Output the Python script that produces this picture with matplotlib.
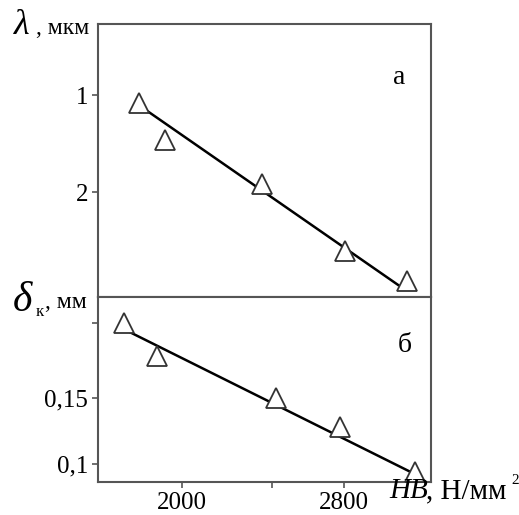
import numpy as np
import matplotlib
matplotlib.use("Agg")
import matplotlib.pyplot as plt

plt.rcParams["font.family"] = ["Liberation Serif", "DejaVu Serif"]

# upper panel (a): wavelength vs hardness
hb_a = [1787, 1914, 2396, 2805, 3110]
lam = [1.086, 1.464, 1.918, 2.608, 2.918]
fit_a_x = [1832, 3069]
fit_a_y = [1.172, 2.959]

# lower panel (b): depth vs hardness
hb_b = [1713, 1873, 2464, 2780, 3151]
delta = [0.2061, 0.1813, 0.1498, 0.1280, 0.0942]
fit_b_x = [1742, 3128]
fit_b_y = [0.1991, 0.0944]

x_ticks = [2000, 2442, 2800]
x_labels = ["2000", "", "2800"]
ya_ticks = [1, 2]
ya_labels = ["1", "2"]
yb_ticks = [0.1, 0.15, 0.2061]
yb_labels = ["0,1", "0,15", ""]

W, H = 519, 515
fig = plt.figure(figsize=(W / 100, H / 100), dpi=100)

def box(l, t, r, b):
    return [l / W, 1 - b / H, (r - l) / W, (b - t) / H]

ax_a = fig.add_axes(box(98, 24, 431, 297))
ax_b = fig.add_axes(box(98, 297, 431, 482))

frame = "#555555"
for ax in (ax_a, ax_b):
    for s in ax.spines.values():
        s.set_color(frame)
        s.set_linewidth(1.5)
    ax.tick_params(direction="out", length=4, width=1.2, color=frame,
                   labelsize=18, pad=3)
    ax.set_xlim(1583, 3231)

ax_a.plot(fit_a_x, fit_a_y, color="black", lw=1.8, zorder=2)
ax_a.plot(hb_a, lam, linestyle="none", marker="^", ms=14, mfc="white",
          mec="#333333", mew=1.3, zorder=3)
ax_a.set_ylim(3.082, 0.268)
ax_a.set_yticks(ya_ticks)
ax_a.set_yticklabels(ya_labels)
ax_a.set_xticks([])
ax_a.text(0.905, 0.805, "а", transform=ax_a.transAxes, fontsize=20,
          ha="center", va="center")

ax_b.plot(fit_b_x, fit_b_y, color="black", lw=1.8, zorder=2)
ax_b.plot(hb_b, delta, linestyle="none", marker="^", ms=14, mfc="white",
          mec="#333333", mew=1.3, zorder=3)
ax_b.set_ylim(0.0867, 0.2256)
ax_b.set_yticks(yb_ticks)
ax_b.set_yticklabels(yb_labels)
ax_b.set_xticks(x_ticks)
ax_b.set_xticklabels(x_labels)
ax_b.text(0.92, 0.74, "б", transform=ax_b.transAxes, fontsize=20,
          ha="center", va="center")

# axis captions
fig.text(14 / W, 1 - 34 / H, "λ", fontsize=26, style="italic", ha="left", va="baseline")
fig.text(36 / W, 1 - 34 / H, ", мкм", fontsize=17, ha="left", va="baseline")
fig.text(13 / W, 1 - 311 / H, "δ", fontsize=30, style="italic", ha="left", va="baseline")
fig.text(36 / W, 1 - 316 / H, "к", fontsize=12, ha="left", va="baseline")
fig.text(45 / W, 1 - 308 / H, ", мм", fontsize=17, ha="left", va="baseline")
fig.text(389 / W, 1 - 498 / H, "HB", fontsize=21, style="italic", ha="left", va="baseline")
fig.text(426 / W, 1 - 498 / H, ", Н/мм", fontsize=21, ha="left", va="baseline")
fig.text(511 / W, 1 - 484 / H, "2", fontsize=11, ha="left", va="baseline")

fig.savefig("out.png", dpi=100)
